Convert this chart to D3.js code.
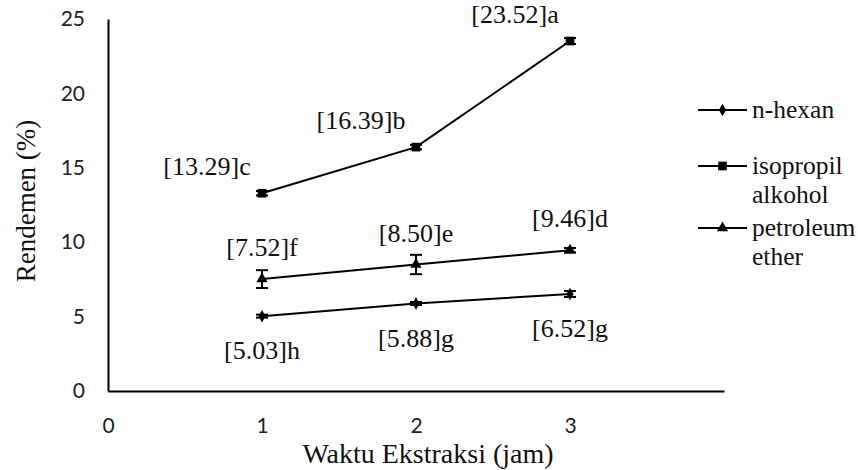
<!DOCTYPE html>
<html>
<head>
<meta charset="utf-8">
<script src="https://cdn.jsdelivr.net/npm/d3@7"></script>
<style>
  body { margin: 0; background: #fff; }
  svg { display: block; }
  .tick text { font-family: Lato, "Open Sans", sans-serif; font-size: 21px; fill: #222; }
</style>
</head>
<body>
<div id="chart"></div>
<script>
// waktu ekstraksi (jam)
var hours = [1, 2, 3];

// rendemen per pelarut
var hexanValues = [5.03, 5.88, 6.52];
var isoValues = [13.29, 16.39, 23.52];
var petValues = [7.52, 8.50, 9.46];

// error bars
var hexanErr = [0.1, 0.1, 0.2];
var isoErr = [0.15, 0.15, 0.2];
var petErr = [0.6, 0.65, 0.15];

// data labels
var hexanLabels = ["[5.03]h", "[5.88]g", "[6.52]g"];
var isoLabels = ["[13.29]c", "[16.39]b", "[23.52]a"];
var petLabels = ["[7.52]f", "[8.50]e", "[9.46]d"];

var xTicks = [0, 1, 2, 3];
var yTicks = [0, 5, 10, 15, 20, 25];

var SERIF = "'Liberation Serif', 'Times New Roman', serif";

var svg = d3.select("#chart").append("svg")
  .attr("width", 858)
  .attr("height", 470);

var x = d3.scaleLinear().domain([0, 4]).range([108, 724]);
var y = d3.scaleLinear().domain([0, 25]).range([391, 19]);

//axes
svg.append("g")
  .attr("transform", "translate(0,391)")
  .call(d3.axisBottom(x).tickValues(xTicks).tickSize(0).tickPadding(27).tickFormat(d3.format("d")))
  .call(function(g) { g.select(".domain").attr("stroke", "#000").attr("stroke-width", 2); });

svg.append("g")
  .attr("transform", "translate(108,0)")
  .call(d3.axisLeft(y).tickValues(yTicks).tickSize(0).tickPadding(23))
  .call(function(g) { g.select(".domain").attr("stroke", "#000").attr("stroke-width", 2); });

//axis titles
svg.append("text")
  .attr("font-family", SERIF)
  .attr("fill", "#111")
  .attr("text-anchor", "middle")
  .attr("x", 428)
  .attr("y", 463)
  .attr("font-size", 28)
  .text("Waktu Ekstraksi (jam)");

svg.append("text")
  .attr("font-family", SERIF)
  .attr("fill", "#111")
  .attr("text-anchor", "middle")
  .attr("transform", "translate(35,201) rotate(-90)")
  .attr("font-size", 27)
  .text("Rendemen (%)");

var series = [
  {name: "n-hexan", values: hexanValues, err: hexanErr, labels: hexanLabels, symbol: d3.symbolDiamond, size: 45, dx: 0, dy: 36},
  {name: "isopropil alkohol", values: isoValues, err: isoErr, labels: isoLabels, symbol: d3.symbolSquare, size: 75, dx: -55, dy: -25},
  {name: "petroleum ether", values: petValues, err: petErr, labels: petLabels, symbol: d3.symbolTriangle, size: 55, dx: 0, dy: -30}
];

var line = d3.line()
  .x(function(d) { return x(d[0]); })
  .y(function(d) { return y(d[1]); });

series.forEach(function(s) {
  var pts = hours.map(function(h, i) { return [h, s.values[i], s.err[i], s.labels[i]]; });
  var g = svg.append("g");

  g.append("path")
    .datum(pts)
    .attr("fill", "none")
    .attr("stroke", "#000")
    .attr("stroke-width", 2)
    .attr("d", line);

  // error bars
  var eb = g.selectAll(".err").data(pts).enter().append("g");
  eb.append("line")
    .attr("x1", function(d) { return x(d[0]); })
    .attr("x2", function(d) { return x(d[0]); })
    .attr("y1", function(d) { return y(d[1] - d[2]); })
    .attr("y2", function(d) { return y(d[1] + d[2]); })
    .attr("stroke", "#000").attr("stroke-width", 2);
  [-1, 1].forEach(function(sign) {
    eb.append("line")
      .attr("x1", function(d) { return x(d[0]) - 6; })
      .attr("x2", function(d) { return x(d[0]) + 6; })
      .attr("y1", function(d) { return y(d[1] + sign * d[2]); })
      .attr("y2", function(d) { return y(d[1] + sign * d[2]); })
      .attr("stroke", "#000").attr("stroke-width", 2);
  });

  g.selectAll(".mk").data(pts).enter().append("path")
    .attr("d", d3.symbol().type(s.symbol).size(s.size))
    .attr("transform", function(d) { return "translate(" + x(d[0]) + "," + y(d[1]) + ")"; })
    .attr("fill", "#000");

  g.selectAll(".lbl").data(pts).enter().append("text")
    .attr("font-family", SERIF)
    .attr("fill", "#111")
    .attr("text-anchor", "middle")
    .attr("x", function(d) { return x(d[0]) + s.dx; })
    .attr("y", function(d) { return y(d[1]) + s.dy + 7; })
    .attr("font-size", 26)
    .text(function(d) { return d[3]; });
});

//legend
var legendY = [110, 166, 228];
series.forEach(function(s, i) {
  var lg = svg.append("g").attr("transform", "translate(698," + legendY[i] + ")");
  lg.append("line").attr("x1", 0).attr("x2", 49).attr("stroke", "#000").attr("stroke-width", 2);
  lg.append("path")
    .attr("d", d3.symbol().type(s.symbol).size(s.size))
    .attr("transform", "translate(24.5,0)")
    .attr("fill", "#000");
  var words = s.name.split(" ");
  var t = lg.append("text")
    .attr("font-family", SERIF)
    .attr("fill", "#111")
    .attr("x", 54)
    .attr("y", 8)
    .attr("font-size", 25.5);
  words.forEach(function(w, j) {
    t.append("tspan").attr("x", 54).attr("dy", j === 0 ? 0 : 29).text(w);
  });
});
</script>
</body>
</html>
